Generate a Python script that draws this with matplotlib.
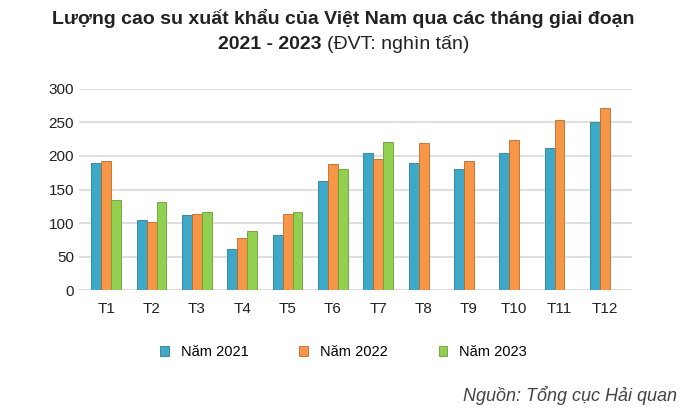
import matplotlib
matplotlib.use("Agg")
import matplotlib.pyplot as plt
import numpy as np

months = ["T1","T2","T3","T4","T5","T6","T7","T8","T9","T10","T11","T12"]
y2021 = [190,105,112,62,83,163,204,190,181,204,211,251]
y2022 = [193,101,113,78,114,188,196,219,193,223,253,271]
y2023 = [135,131,116,88,117,180,220,np.nan,np.nan,np.nan,np.nan,np.nan]
series = [("Năm 2021", y2021, "#3ba9c7", "#2a7f96"),
          ("Năm 2022", y2022, "#f79646", "#c0682a"),
          ("Năm 2023", y2023, "#92d050", "#6a9e35")]

plt.rcParams['font.family'] = ['Liberation Sans', 'DejaVu Sans']
fig = plt.figure(figsize=(6.87, 4.12), dpi=100)
ax = fig.add_axes([0.115, 0.295, 0.805, 0.49])
x = np.arange(len(months))
w = 0.22
for i, (lab, vals, c, ec) in enumerate(series):
    ax.bar(x + (i - 1) * w, vals, w, color=c, edgecolor=ec, linewidth=0.6, label=lab, zorder=3)
ax.set_ylim(0, 300)
ax.set_xlim(-0.6, 11.6)
ax.set_yticks(range(0, 301, 50))
ax.set_xticks(x)
ax.set_xticklabels(months)
ax.tick_params(length=0, labelsize=11, colors="#222222")
ax.tick_params(axis='x', pad=8)
ax.grid(axis='y', color="#d9d9d9", linewidth=1.2, zorder=0)
for s in ax.spines.values():
    s.set_visible(False)
fig.legend(loc="center", bbox_to_anchor=(0.5, 0.145), ncol=3, frameon=False,
           fontsize=10.5, handlelength=0.6, handleheight=0.6, columnspacing=3.5)
fig.text(0.5, 0.955, "Lượng cao su xuất khẩu của Việt Nam qua các tháng giai đoạn",
         ha="center", va="center", fontsize=14, fontweight="bold", color="#222222")

# second title line: bold part + normal part, centred together
r = fig.canvas.get_renderer()
t1 = fig.text(0, 0.893, "2021 - 2023 ", ha="left", va="center", fontsize=14,
              fontweight="bold", color="#222222")
t2 = fig.text(0, 0.893, "(ĐVT: nghìn tấn)", ha="left", va="center", fontsize=14,
              color="#222222")
w1 = t1.get_window_extent(r).width / fig.bbox.width
w2 = t2.get_window_extent(r).width / fig.bbox.width
start = 0.5 - (w1 + w2) / 2
t1.set_x(start)
t2.set_x(start + w1)

fig.text(0.985, 0.04, "Nguồn: Tổng cục Hải quan", ha="right", va="center",
         fontsize=13, style="italic", color="#444444")
fig.savefig("out.png", dpi=100)
